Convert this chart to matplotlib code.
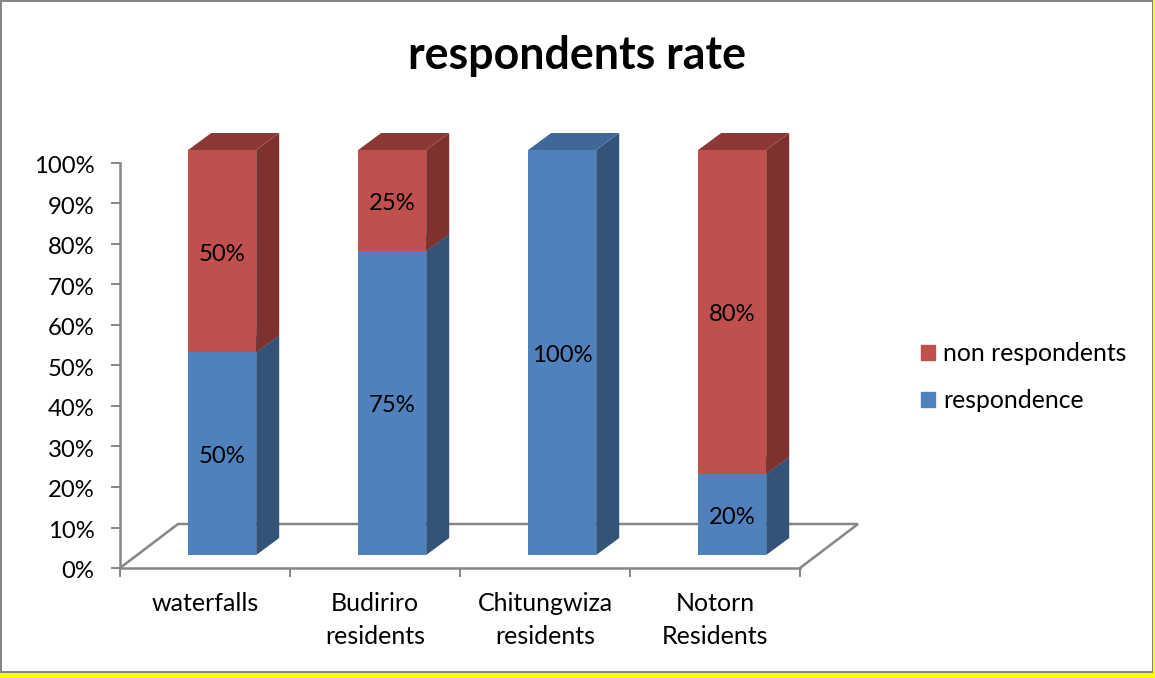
import matplotlib
matplotlib.use("Agg")
import matplotlib.pyplot as plt
from matplotlib.patches import Rectangle, Patch
from matplotlib.ticker import PercentFormatter
from matplotlib.transforms import Affine2D

categories = ["waterfalls", "Budiriro\nresidents", "Chitungwiza\nresidents", "Notorn\nResidents"]
respondence = [50, 75, 100, 20]
non_respondents = [50, 25, 0, 80]
series_names = ["respondence", "non respondents"]
title = "respondents rate"

W, H = 1155, 678
plt.rcParams["font.family"] = ["Lato", "DejaVu Sans"]
fig = plt.figure(figsize=(W / 100, H / 100), dpi=100, facecolor="white")

GRAY = "#868686"
for (x, y, w, h, c, z) in [(0, 0, W, H, "#FFFF00", -4), (0, 5, 1153, H - 5, GRAY, -3), (2, 7, 1150, H - 9, "white", -2)]:
    fig.add_artist(Rectangle((x / W, y / H), w / W, h / H, transform=fig.transFigure, fc=c, ec="none", lw=0, zorder=z))

L, R, B, T = 120, 800, 568, 163
ax = fig.add_axes([L / W, (H - B) / H, (R - L) / W, (B - T) / H])
ax.patch.set_alpha(0)
ax.set_xlim(-0.5, 3.5)
ax.set_ylim(0, 100)

px_x = 4 / (R - L)
px_y = 100 / (B - T)

# floor of the pseudo-3D plot
fdx, fdy = 58 * px_x, 44 * px_y
x0, x1 = -0.5, 3.5
ax.plot([x0, x0 + fdx, x1 + fdx, x1], [0, fdy, fdy, 0], color=GRAY, lw=1.8,
        clip_on=False, zorder=1, solid_joinstyle="miter")

# bars
bw = 0.4
d0x, d0y = 17.2 * px_x, 13 * px_y
d1x, d1y = 40.2 * px_x, 30 * px_y
FRONT = ["#4F81BD", "#C0504D"]
SIDE = ["#335379", "#7D3230"]
TOP = ["#3F6797", "#8C3836"]


def stack(i, base, h, s):
    xl = i - bw / 2 + d0x
    xr = i + bw / 2 + d0x
    yb = base + d0y
    yt = base + h + d0y
    ax.fill([xr, xr + d1x - d0x, xr + d1x - d0x, xr],
            [yb, yb + d1y - d0y, yt + d1y - d0y, yt], color=SIDE[s], lw=0, clip_on=False, zorder=2)
    ax.fill([xl, xl + d1x - d0x, xr + d1x - d0x, xr],
            [yt, yt + d1y - d0y, yt + d1y - d0y, yt], color=TOP[s], lw=0, clip_on=False, zorder=2)


def value_label(x, y, v):
    ax.annotate(f"{v}%", (x, y), xytext=(0, -2.0), textcoords="offset points", ha="center",
                va="center", fontsize=17.2, color="black", zorder=5)


for i in range(len(categories)):
    stack(i, 0, respondence[i], 0)
    if non_respondents[i] > 0:
        stack(i, respondence[i], non_respondents[i], 1)

for i in range(len(categories)):
    x = i + d0x
    ax.bar(x, respondence[i], bw, bottom=d0y, color=FRONT[0], lw=0, clip_on=False, zorder=3)
    value_label(x, d0y + respondence[i] / 2, respondence[i])
    if non_respondents[i] > 0:
        ax.bar(x, non_respondents[i], bw, bottom=d0y + respondence[i], color=FRONT[1], lw=0,
               clip_on=False, zorder=3)
        value_label(x, d0y + respondence[i] + non_respondents[i] / 2, non_respondents[i])

# axes
for s in ["top", "right"]:
    ax.spines[s].set_visible(False)
for s in ["left", "bottom"]:
    ax.spines[s].set_color(GRAY)
    ax.spines[s].set_linewidth(1.8)
    ax.spines[s].set_zorder(4)
ax.set_yticks(range(0, 101, 10))
ax.yaxis.set_major_formatter(PercentFormatter(100, decimals=0))
ax.set_xticks([-0.5, 0.5, 1.5, 2.5, 3.5])
ax.set_xticklabels([])
ax.set_xticks(range(4), categories, minor=True)
ax.tick_params(axis="x", which="minor", length=0, pad=17.5, labelsize=18, labelcolor="black")
ax.tick_params(axis="x", which="major", length=6.5, width=1.4, color=GRAY)
ax.tick_params(axis="y", length=6.5, width=1.4, color=GRAY, pad=12, labelsize=17.2, labelcolor="black")
for lab in ax.get_xticklabels(minor=True):
    lab.set_linespacing(1.5)
    lab.set_verticalalignment("top")
for tick in ax.yaxis.get_major_ticks():
    tick.label1.set_transform(tick.label1.get_transform() + Affine2D().translate(0, -2))

fig.text(577 / W, (H - 56) / H, title, ha="center", va="center", fontsize=32.2, fontweight="bold", color="black")

handles = [Patch(color=FRONT[1], label=series_names[1]), Patch(color=FRONT[0], label=series_names[0])]
fig.legend(handles=handles, loc="center left", bbox_to_anchor=(921 / W, (H - 377) / H), frameon=False,
           fontsize=17.8, handlelength=0.56, handleheight=0.56, handletextpad=0.35, labelspacing=0.97,
           borderpad=0, borderaxespad=0)

fig.savefig("out.png", dpi=100)
